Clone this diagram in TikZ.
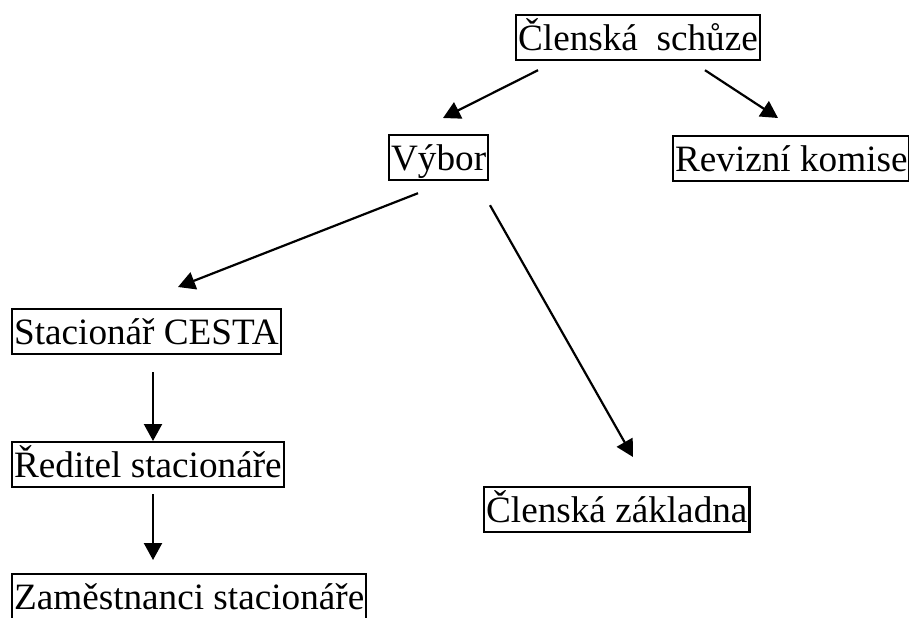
\documentclass[tikz,border=0pt]{standalone}
\usepackage{fontspec}
\setmainfont{Liberation Serif}
\usetikzlibrary{shapes,arrows.meta,calc}
\tikzstyle{block} = [rectangle, draw=black, line width=1.1pt, anchor=north west, inner xsep=1pt, inner ysep=0pt, text height=17.5pt, text depth=5pt, font=\fontsize{18.6}{22}\selectfont]

\begin{document}
\begin{tikzpicture}[x=0.5pt, y=-0.5pt, >={Triangle[length=8.5pt,width=9pt]}, line width=1.1pt]
\useasboundingbox (0,0) rectangle (909,617);
\node [block] (Schuze) at (515,14) {Členská\ \ schůze};
\node [block] (Vybor) at (388,134) {Výbor};
\node [block] (Revize) at (672,135) {Revizní komise};
\node [block] (Stacionar) at (11,308) {Stacionář CESTA};
\node [block] (Reditel) at (11,441) {Ředitel stacionáře};
\node [block] (Zamestnanci) at (11,573) {Zaměstnanci stacionáře};
\node [block] (Zakladna) at (483,486) {Členská základna};

\draw [->] ($(Schuze.south west)+(23,9)$) -- ($(Vybor.north west)+(55,-16)$);
\draw [->] ($(Schuze.south west)+(190,9)$) -- ($(Revize.north west)+(106,-17)$);
\draw [->] ($(Vybor.south west)+(30,12)$) -- ($(Stacionar.north west)+(167,-21)$);
\draw [->] ($(Vybor.south west)+(102,24)$) -- ($(Zakladna.north west)+(150,-29)$);
\draw [->] ($(Stacionar.south west)+(142,17)$) -- ($(Reditel.north west)+(142,0)$);
\draw [->] ($(Reditel.south west)+(142,6)$) -- ($(Zamestnanci.north west)+(142,-13)$);

\end{tikzpicture}
\end{document}
